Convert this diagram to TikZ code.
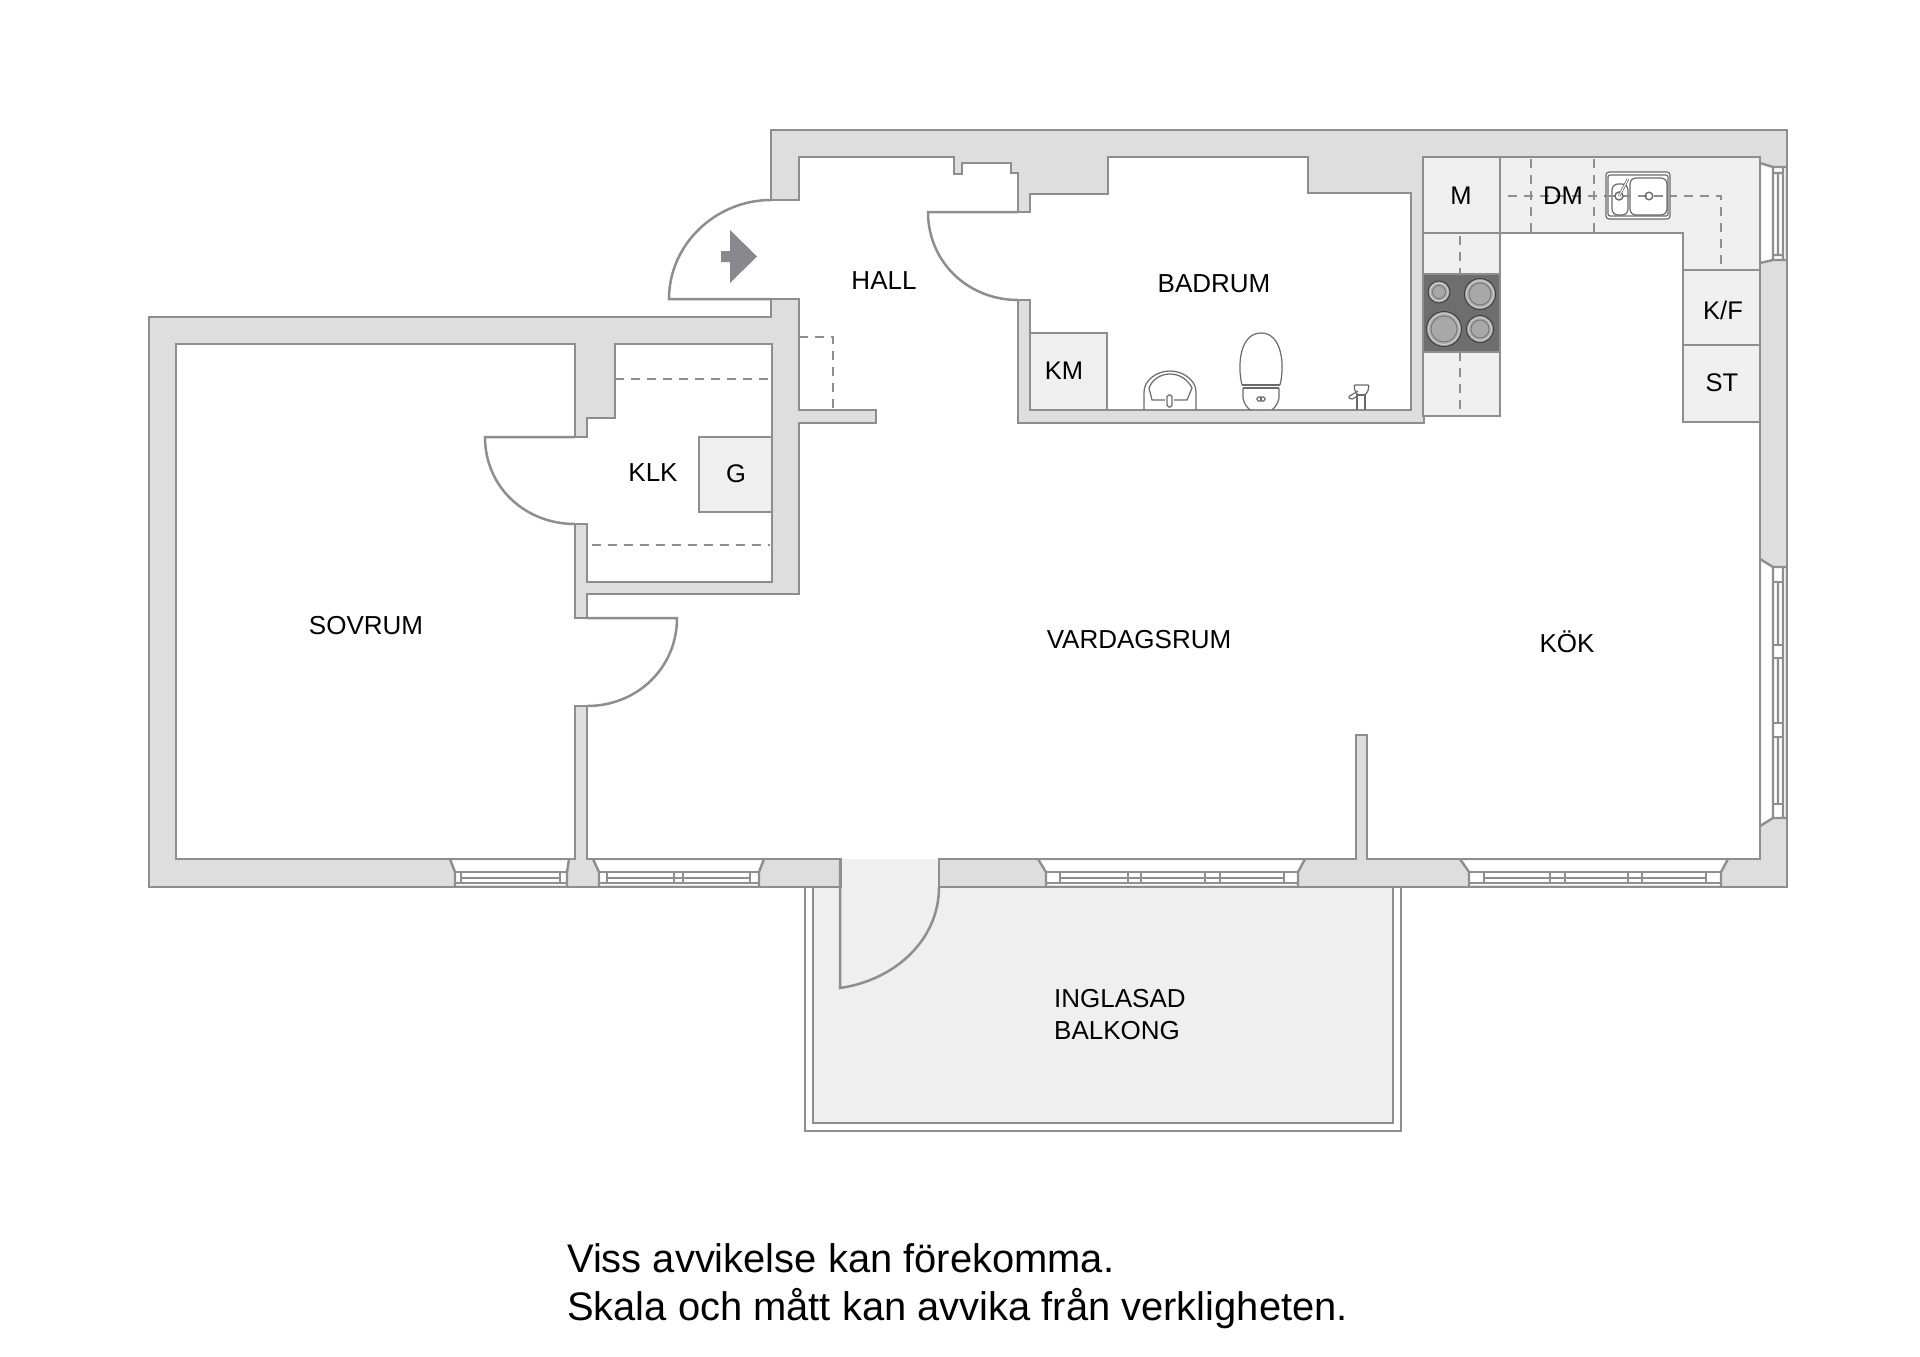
\documentclass[tikz,border=0pt]{standalone}
\usepackage{fontspec}
\setmainfont{Liberation Sans}
\definecolor{wallfill}{HTML}{DEDEDE}
\definecolor{wallline}{HTML}{8E8E8E}
\definecolor{unitfill}{HTML}{EFEFEF}
\definecolor{hobfill}{HTML}{6E6E6E}
\definecolor{ringfill}{HTML}{A8A8A8}
\definecolor{arrowfill}{HTML}{88888E}
\definecolor{fixline}{HTML}{6A6A6A}
\tikzset{
  wall/.style={fill=wallfill,draw=wallline,line width=2.7pt,miter limit=10},
  unit/.style={fill=unitfill,draw=wallline,line width=2.7pt},
  doorline/.style={draw=wallline,line width=2.5pt},
  hidden/.style={draw=wallline,line width=2.6pt,dash pattern=on 9pt off 7pt},
  winline/.style={draw=wallline,line width=2.4pt},
  fixture/.style={draw=fixline,line width=1.2pt},
  label/.style={inner sep=0pt,font=\fontsize{26}{26}\selectfont,text=black},
  smalllabel/.style={inner sep=0pt,font=\fontsize{25.5}{26}\selectfont,text=black},
  note/.style={inner sep=0pt,anchor=base west,font=\fontsize{39.9}{40}\selectfont,text=black}
}
\newcommand{\bottomwin}[7]{% top-left, top-right, rect-left, rect-right, glazing left/right, uprights
  \fill[white] (#1,860.3) -- (#2,860.3) -- (#4,872) -- (#4,885) -- (#3,885) -- (#3,872) -- cycle;
  \draw[winline] (#1,859) -- (#3,872) -- (#3,887) (#2,859) -- (#4,872) -- (#4,887);
  \draw[winline] (#3,872) -- (#4,872) (#3,883) -- (#4,883);
  \draw[winline] (#5,878) -- (#6,878);
  \foreach \a in {#7} { \draw[winline] (\a,872) -- (\a,883); }
}
\begin{document}
\begin{tikzpicture}[x=1pt,y=-1pt]
\useasboundingbox (0,0) rectangle (1920,1357);
\fill[white] (0,0) rectangle (1920,1357);

% balcony
\draw[wallline,line width=2.7pt,fill=white] (805,887) -- (805,1131) -- (1401,1131) -- (1401,887);
\fill[unitfill] (813,859) rectangle (1393,1123);
\draw[wallline,line width=2.7pt] (813,887) -- (813,1123) -- (1393,1123) -- (1393,887);
\fill[white] (841,840) rectangle (939,859);

% walls: two outlines split at the balcony door
\draw[wall] (771,200) -- (799,200) -- (799,157) -- (954,157) -- (954,174) -- (962,174) -- (962,163) -- (1011,163) -- (1011,173) -- (1018,173) -- (1018,212) -- (1030,212) -- (1030,194) -- (1108,194) -- (1108,157) -- (1308,157) -- (1308,193) -- (1411,193) -- (1411,410) -- (1030,410) -- (1030,300) -- (1018,300) -- (1018,423) -- (1424,423) -- (1424,157) -- (1760,157) -- (1760,859) -- (1367,859) -- (1367,735) -- (1356,735) -- (1356,859) -- (939,859) -- (939,887) -- (1787,887) -- (1787,130) -- (771,130) -- cycle;
\draw[wall] (841,859) -- (587,859) -- (587,706) -- (575,706) -- (575,859) -- (176,859) -- (176,344) -- (575,344) -- (575,437) -- (587,437) -- (587,418) -- (615,418) -- (615,344) -- (772,344) -- (772,582) -- (587,582) -- (587,524) -- (575,524) -- (575,618) -- (587,618) -- (587,594) -- (799,594) -- (799,423) -- (876,423) -- (876,410) -- (799,410) -- (799,299) -- (771,299) -- (771,317) -- (149,317) -- (149,887) -- (841,887) -- cycle;

% bottom windows
\bottomwin{450}{569}{455}{567}{461}{560}{461,560}
\bottomwin{593}{764}{599}{759}{607}{750}{607,674,683,750}
\bottomwin{1038}{1305}{1046}{1298}{1060}{1284}{1060,1128,1141,1205,1220,1284}
\bottomwin{1460}{1728}{1469}{1721}{1484}{1706}{1484,1550,1565,1628,1642,1706}

% right windows
\fill[white] (1761.3,163) -- (1773,167) -- (1785,167) -- (1785,260) -- (1773,260) -- (1761.3,263) -- cycle;
\draw[winline] (1760,163) -- (1773,167) -- (1787,167) (1760,263) -- (1773,260) -- (1787,260) (1773,167) -- (1773,260) (1783,167) -- (1783,260) (1778,173) -- (1778,255) (1773,173) -- (1783,173) (1773,255) -- (1783,255);
\fill[white] (1761.3,559) -- (1773,567) -- (1785,567) -- (1785,818) -- (1773,818) -- (1761.3,826) -- cycle;
\draw[winline] (1760,559) -- (1773,567) -- (1787,567) (1760,826) -- (1773,818) -- (1787,818) (1773,567) -- (1773,818) (1783,567) -- (1783,818) (1778,582) -- (1778,645) (1778,658) -- (1778,723) (1778,737) -- (1778,804);
\draw[winline] (1773,582) -- (1783,582) (1773,645) -- (1783,645) (1773,658) -- (1783,658) (1773,723) -- (1783,723) (1773,737) -- (1783,737) (1773,804) -- (1783,804);

% doors
\draw[doorline,line join=miter] (771,299) -- (669,299) .. controls (669,244) and (716,200) .. (771,200);
\draw[doorline] (1018,212) -- (928,212) .. controls (928,262) and (968,300) .. (1018,300);
\draw[doorline] (575,437) -- (485,437) .. controls (485,487) and (525,524) .. (575,524);
\draw[doorline] (587,618) -- (677,618) .. controls (677,668) and (637,706) .. (587,706);
\draw[doorline] (840,859) -- (840,988) .. controls (895,980) and (939,940) .. (939,887);

% entry arrow
\fill[arrowfill] (721,251) -- (730,251) -- (730,230) -- (757,256.5) -- (730,283) -- (730,262) -- (721,262) -- cycle;

% kitchen units
\draw[unit] (1500,157) -- (1760,157) -- (1760,270) -- (1683,270) -- (1683,233) -- (1500,233) -- cycle;
\draw[unit] (1423,157) rectangle (1500,233);
\draw[unit] (1423,233) rectangle (1500,416);
\draw[unit] (1683,270) rectangle (1760,345);
\draw[unit] (1683,345) rectangle (1760,422);
\draw[hidden] (1460,236) -- (1460,274) (1460,352) -- (1460,412);
\draw[hidden] (1508,196) -- (1721,196) -- (1721,268);
\draw[hidden] (1531,159) -- (1531,232) (1594,159) -- (1594,232);

% hob
\fill[hobfill,draw=wallline,line width=1.5pt] (1423,274) rectangle (1500,352);
\foreach \cx/\cy/\r in {1439/292/11,1480/294/15.5,1444/329/17.5,1480/329/13.5}{
  \draw[fill=ringfill,draw=black!75,line width=1pt] (\cx,\cy) circle[radius=\r pt];
  \draw[fill=ringfill,draw=white!80!black,line width=1pt] (\cx,\cy) circle[radius=\r pt-2pt];
  \draw[fill=ringfill,draw=black!55,line width=.8pt] (\cx,\cy) circle[radius=\r pt-4.5pt];
}

% sink
\draw[fixture,fill=white,rounded corners=3pt] (1606,172) rectangle (1670,219);
\draw[fixture,rounded corners=2pt] (1608,175) rectangle (1668,216);
\draw[fixture,rounded corners=6pt] (1612,184) rectangle (1628,215);
\draw[fixture,rounded corners=6pt] (1630,178) rectangle (1667,215);
\draw[hidden] (1606,196) -- (1670,196);
\draw[fixture,line width=1.4pt] (1619,196) circle[radius=4pt] (1649,196) circle[radius=3.8pt];
\draw[fixture,line width=2.5pt] (1619,196) -- (1628,179);
\draw[white,line width=1pt] (1619,196) -- (1628,179);

% bathroom units and fixtures
\draw[unit] (1030,333) rectangle (1107,410);
\draw[unit] (699,437) rectangle (772,512);
\draw[fixture] (1144,410) -- (1144,392) .. controls (1144,380) and (1157,371) .. (1170,371) .. controls (1183,371) and (1196,380) .. (1196,392) -- (1196,410);
\draw[fixture] (1149,388) .. controls (1152,380) and (1160,374) .. (1170,374) .. controls (1180,374) and (1188,380) .. (1192,388) -- (1187,400) -- (1174,400) (1165,400) -- (1152,400) -- (1149,388);
\draw[fixture,rounded corners=1.8pt] (1167,395) rectangle (1172,407);
\draw[fixture] (1242,385) .. controls (1237,365) and (1240,333) .. (1261,333) .. controls (1282,333) and (1285,365) .. (1280,385);
\draw[fixture] (1242,385) -- (1280,385);
\draw[fixture,line width=1.6pt] (1243,388) -- (1279,388);
\draw[fixture] (1243,388) -- (1243,398) .. controls (1244,404) and (1247,407) .. (1250,410);
\draw[fixture] (1279,388) -- (1279,398) .. controls (1278,404) and (1275,407) .. (1272,410);
\draw[fixture,rounded corners=1.5pt] (1257,397) rectangle (1265,401);
\draw[fixture] (1261,397) -- (1261,401);
\draw[fixture] (1357,410) -- (1357,395) -- (1365,395) -- (1365,410);
\draw[fixture,rounded corners=1pt] (1354,385) -- (1369,385) -- (1368,391) -- (1365,395) -- (1358,395) -- (1355,391) -- cycle;
\draw[fixture,rounded corners=2pt] (1358,391) -- (1348,397) -- (1351,400) -- (1359,395);

% closet and hall hidden lines
\draw[hidden] (615,379) -- (772,379);
\draw[hidden] (592,545) -- (770,545);
\draw[hidden] (799,337) -- (833,337) -- (833,410);

% labels
\node[label] (hall) at (884,280.5) {HALL};
\node[label] (badrum) at (1214,283.5) {BADRUM};
\node[smalllabel] (km) at (1064,371) {KM};
\node[label] (klk) at (653,472.5) {KLK};
\node[smalllabel] (g) at (736,474) {G};
\node[label] (sovrum) at (366,625.5) {SOVRUM};
\node[label] (vardagsrum) at (1139,640) {VARDAGSRUM};
\node[label] (kok) at (1567,642) {KÖK};
\node[smalllabel] (m) at (1461,196) {M};
\node[smalllabel] (dm) at (1563,196) {DM};
\node[smalllabel] (kf) at (1723,310) {K/F};
\node[smalllabel] (st) at (1722,383) {ST};
\node[label,anchor=west] (inglasad) at (1054,999) {INGLASAD};
\node[label,anchor=west] (balkong) at (1054,1031) {BALKONG};
\node[note] (note1) at (567,1272) {Viss avvikelse kan förekomma.};
\node[note] (note2) at (567,1320) {Skala och mått kan avvika från verkligheten.};
\end{tikzpicture}
\end{document}
